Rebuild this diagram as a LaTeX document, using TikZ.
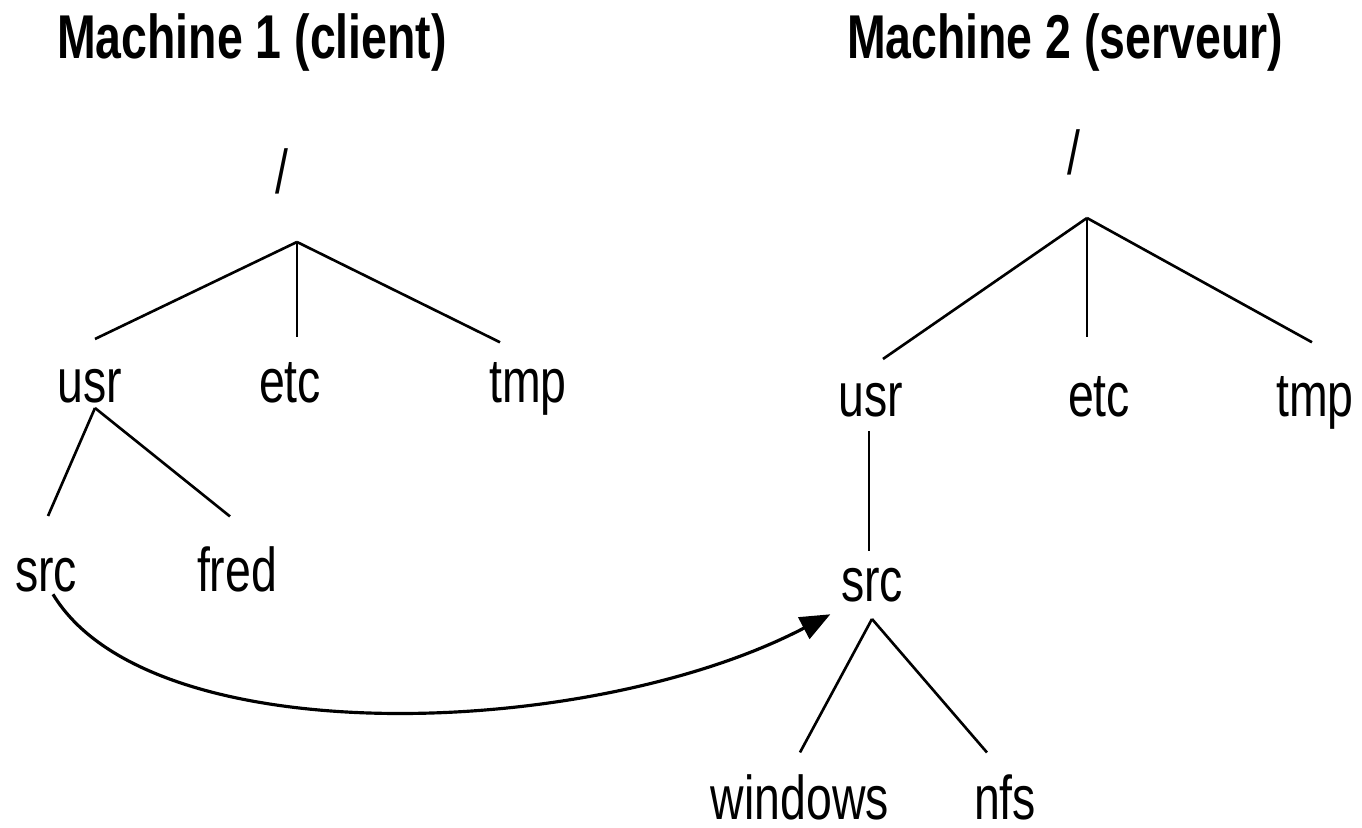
\documentclass[tikz,border=0pt]{standalone}
\usepackage{fontspec}
\setmainfont{Liberation Sans}[FakeStretch=0.75]
\usetikzlibrary{arrows.meta,calc}

\begin{document}
\begin{tikzpicture}[x=0.01cm,y=-0.01cm,
branch/.style = {line width=0.75pt,black},
mount/.style = {line width=0.9pt,black,-{Triangle[length=3mm,width=2.4mm]}},
dir/.style = {inner sep=0pt,anchor=base,font=\fontsize{17.6}{20}\selectfont},
title/.style = {dir,font=\fontsize{17.6}{20}\selectfont\bfseries}]

        \useasboundingbox (0,0) rectangle (1362,828);

        % machine 1
        \node (Title_C) [title] at (252,59) {Machine 1 (client)};
        \node (Root_C) [dir] at (282,194) {/};
        \node (Usr_C) [dir] at (90,403) {usr};
        \node (Etc_C) [dir] at (290,403) {etc};
        \node (Tmp_C) [dir] at (528,403) {tmp};
        \node (Src_C) [dir] at (46,592) {src};
        \node (Fred_C) [dir] at (237,592) {fred};
        \coordinate (Fork_C) at (297,242);
        \coordinate (Fork_Usr_C) at (95,408);
        \draw[branch] (Fork_C) -- ($(Usr_C.north)+(5,-30)$);
        \draw[branch] (Fork_C) -- ($(Etc_C.north)+(7,-25)$);
        \draw[branch] (Fork_C) -- ($(Tmp_C.north)+(-28,-20)$);
        \draw[branch] (Fork_Usr_C) -- ($(Src_C.north)+(2,-42)$);
        \draw[branch] (Fork_Usr_C) -- ($(Fred_C.north)+(-7,-30)$);

        % machine 2
        \node (Title_S) [title] at (1065,59) {Machine 2 (serveur)};
        \node (Root_S) [dir] at (1074,175) {/};
        \node (Usr_S) [dir] at (871,417) {usr};
        \node (Etc_S) [dir] at (1099,417) {etc};
        \node (Tmp_S) [dir] at (1315,417) {tmp};
        \node (Src_S) [dir] at (872,602) {src};
        \node (Windows_S) [dir] at (800,820) {windows};
        \node (Nfs_S) [dir] at (1005,820) {nfs};
        \coordinate (Fork_S) at (1087,218);
        \coordinate (Fork_Src_S) at (872,619);
        \draw[branch] (Fork_S) -- ($(Usr_S.north)+(12,-24)$);
        \draw[branch] (Fork_S) -- ($(Etc_S.north)+(-12,-39)$);
        \draw[branch] (Fork_S) -- ($(Tmp_S.north)+(-3,-34)$);
        \draw[branch] ($(Usr_S.south)+(-2,13)$) -- ($(Src_S.north)+(-3,-17)$);
        \draw[branch] (Fork_Src_S) -- ($(Windows_S.north)+(0,-22)$);
        \draw[branch] (Fork_Src_S) -- ($(Nfs_S.north)+(-18,-22)$);

        % mount
        \draw[mount] ($(Src_C.south)+(7,1)$) .. controls (150,755) and (590,740) .. ($(Src_S.south west)+(-10,11)$);

\end{tikzpicture}
\end{document}
